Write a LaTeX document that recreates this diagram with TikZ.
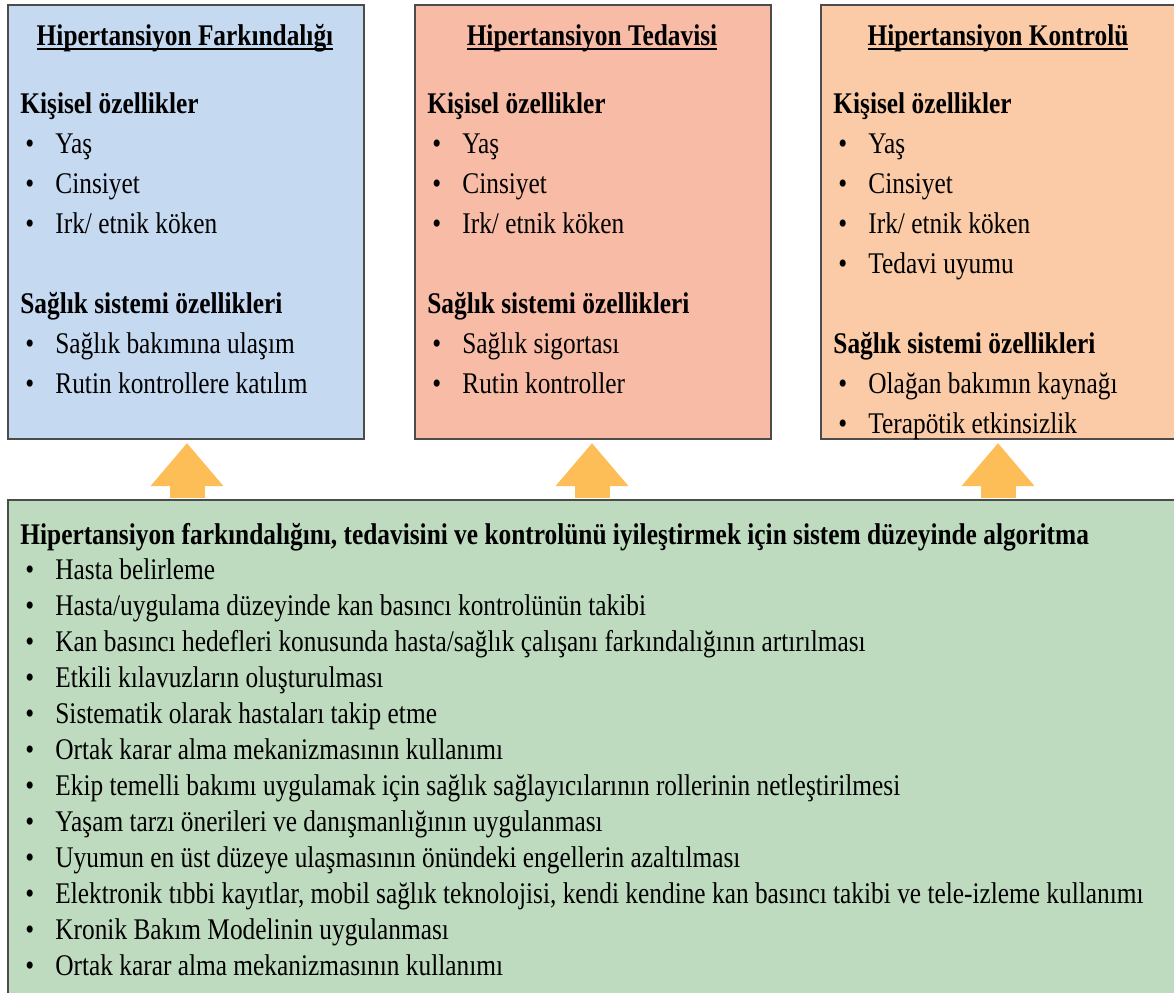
\documentclass[tikz,border=0pt]{standalone}
\usepackage{fontspec}
\setmainfont{Liberation Serif}[FakeStretch=0.845]
\usepackage{tikz}
\usetikzlibrary{arrows.meta}
\tikzset{>=latex}

\definecolor{farkblue}{HTML}{C5D9F1}
\definecolor{tedsalmon}{HTML}{F7BBA6}
\definecolor{kontpeach}{HTML}{FACBA6}
\definecolor{algogreen}{HTML}{BFDBBF}
\definecolor{flowgold}{HTML}{FDBD57}

\tikzset{
    panel/.style={draw=black!70, line width=1pt, anchor=north west, inner sep=0pt,
        minimum width=178pt, minimum height=217pt},
    heading/.style={anchor=base, inner sep=0pt, font=\fontsize{15pt}{18pt}\selectfont\bfseries},
    label/.style={anchor=base west, inner sep=0pt, font=\fontsize{15pt}{18pt}\selectfont\bfseries},
    entry/.style={anchor=base west, inner sep=0pt, font=\fontsize{15pt}{18pt}\selectfont},
    upflow/.style={draw=flowgold, line width=17.5pt,
        -{Triangle[width=35pt, length=21.5pt]}, shorten >=1.5pt, shorten <=0.5pt}
}

\newcommand{\titleline}[1]{\setbox0\hbox{#1}\rlap{\rule[-2.6pt]{\wd0}{1pt}}\box0}
\newcommand{\bul}{\makebox[17.5pt][l]{\hspace{2.5pt}\textbullet}}

\begin{document}
\begin{tikzpicture}[x=0.5pt, y=-0.5pt]
    \useasboundingbox (0,0) rectangle (1174,992);

    \coordinate (F) at (7,4);
    \coordinate (T) at (414,4);
    \coordinate (K) at (820,4);
    \coordinate (A) at (7,499);

    % Boxes
    \node[panel, fill=farkblue] (fark) at (F) {};
    \node[panel, fill=tedsalmon] (ted) at (T) {};
    \node[panel, fill=kontpeach, minimum width=179pt] (kont) at (K) {};

    % Arrows
    \coordinate (fark-in) at (187,499);
    \coordinate (ted-in) at (592,499);
    \coordinate (kont-in) at (998,499);
    \draw[upflow] (fark-in) -- (fark-in |- fark.south);
    \draw[upflow] (ted-in) -- (ted-in |- ted.south);
    \draw[upflow] (kont-in) -- (kont-in |- kont.south);

    \node[panel, fill=algogreen, minimum width=600pt, minimum height=260pt] (algo) at (A) {};

    % Hipertansiyon Farkindaligi
    \node[heading] (fark-title) at (185,45) {\titleline{Hipertansiyon Farkındalığı}};
    \node[label] (fark-kisi) at (20,113) {Kişisel özellikler};
    \foreach \txt [count=\i] in {Yaş, Cinsiyet, Irk/ etnik köken}
        \node[entry] (fark-k\i) at (20,113+40*\i) {\bul\txt};
    \node[label] (fark-sis) at (20,313) {Sağlık sistemi özellikleri};
    \foreach \txt [count=\i] in {Sağlık bakımına ulaşım, Rutin kontrollere katılım}
        \node[entry] (fark-s\i) at (20,313+40*\i) {\bul\txt};

    % Hipertansiyon Tedavisi
    \node[heading] (ted-title) at (592,45) {\titleline{Hipertansiyon Tedavisi}};
    \node[label] (ted-kisi) at (427,113) {Kişisel özellikler};
    \foreach \txt [count=\i] in {Yaş, Cinsiyet, Irk/ etnik köken}
        \node[entry] (ted-k\i) at (427,113+40*\i) {\bul\txt};
    \node[label] (ted-sis) at (427,313) {Sağlık sistemi özellikleri};
    \foreach \txt [count=\i] in {Sağlık sigortası, Rutin kontroller}
        \node[entry] (ted-s\i) at (427,313+40*\i) {\bul\txt};

    % Hipertansiyon Kontrolu
    \node[heading] (kont-title) at (998,45) {\titleline{Hipertansiyon Kontrolü}};
    \node[label] (kont-kisi) at (833,113) {Kişisel özellikler};
    \foreach \txt [count=\i] in {Yaş, Cinsiyet, Irk/ etnik köken, Tedavi uyumu}
        \node[entry] (kont-k\i) at (833,113+40*\i) {\bul\txt};
    \node[label] (kont-sis) at (833,353) {Sağlık sistemi özellikleri};
    \foreach \txt [count=\i] in {Olağan bakımın kaynağı, Terapötik etkinsizlik}
        \node[entry] (kont-s\i) at (833,353+40*\i) {\bul\txt};

    % Algoritma
    \node[label] (algo-title) at (20,544) {Hipertansiyon farkındalığını, tedavisini ve kontrolünü iyileştirmek için sistem düzeyinde algoritma};
    \foreach \txt [count=\i] in {Hasta belirleme,
            Hasta/uygulama düzeyinde kan basıncı kontrolünün takibi,
            Kan basıncı hedefleri konusunda hasta/sağlık çalışanı farkındalığının artırılması,
            Etkili kılavuzların oluşturulması,
            Sistematik olarak hastaları takip etme,
            Ortak karar alma mekanizmasının kullanımı,
            Ekip temelli bakımı uygulamak için sağlık sağlayıcılarının rollerinin netleştirilmesi,
            Yaşam tarzı önerileri ve danışmanlığının uygulanması,
            Uyumun en üst düzeye ulaşmasının önündeki engellerin azaltılması,
            {Elektronik tıbbi kayıtlar, mobil sağlık teknolojisi, kendi kendine kan basıncı takibi ve tele-izleme kullanımı},
            Kronik Bakım Modelinin uygulanması,
            Ortak karar alma mekanizmasının kullanımı}
        \node[entry] (algo-\i) at (20,543+36*\i) {\bul\txt};
\end{tikzpicture}
\end{document}
